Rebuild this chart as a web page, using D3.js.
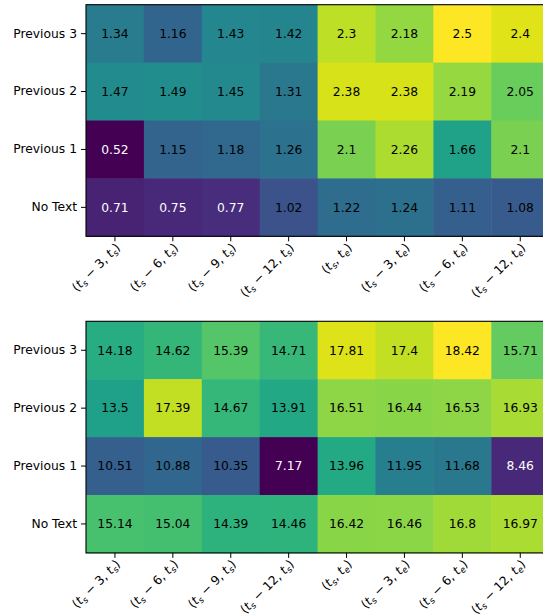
<!DOCTYPE html>
<html>
<head>
<meta charset="utf-8">
<script src="https://cdn.jsdelivr.net/npm/d3@7"></script>
<style>
  body { margin: 0; background: #fff; }
  text { font-family: "DejaVu Sans", sans-serif; }
</style>
</head>
<body>
<script>
// Chart data
const rowLabels = ["Previous 3", "Previous 2", "Previous 1", "No Text"];
const colLabels = [
  "(t_s − 3, t_s)", "(t_s − 6, t_s)", "(t_s − 9, t_s)", "(t_s − 12, t_s)",
  "(t_s, t_e)", "(t_s − 3, t_e)", "(t_s − 6, t_e)", "(t_s − 12, t_e)"
];
const topValues = [
  [1.34, 1.16, 1.43, 1.42, 2.3, 2.18, 2.5, 2.4],
  [1.47, 1.49, 1.45, 1.31, 2.38, 2.38, 2.19, 2.05],
  [0.52, 1.15, 1.18, 1.26, 2.1, 2.26, 1.66, 2.1],
  [0.71, 0.75, 0.77, 1.02, 1.22, 1.24, 1.11, 1.08]
];
const bottomValues = [
  [14.18, 14.62, 15.39, 14.71, 17.81, 17.4, 18.42, 15.71],
  [13.5, 17.39, 14.67, 13.91, 16.51, 16.44, 16.53, 16.93],
  [10.51, 10.88, 10.35, 7.17, 13.96, 11.95, 11.68, 8.46],
  [15.14, 15.04, 14.39, 14.46, 16.42, 16.46, 16.8, 16.97]
];

const width = 543, height = 616;
const cell = 57.9;
const left = 86;

const svg = d3.select("body").append("svg")
  .attr("width", width)
  .attr("height", height);

function heatmap(values, top) {
  const g = svg.append("g").attr("transform", `translate(${left},${top})`);

  const x = d3.scaleBand().domain(d3.range(colLabels.length))
    .range([0, cell * colLabels.length]);
  const y = d3.scaleBand().domain(rowLabels)
    .range([0, cell * rowLabels.length]);

  const flat = values.flat();
  const color = d3.scaleSequential(d3.interpolateViridis)
    .domain(d3.extent(flat));
  const norm = d3.scaleLinear().domain(d3.extent(flat)).range([0, 1]);

  const cells = [];
  values.forEach((row, i) => row.forEach((v, j) => cells.push({ r: rowLabels[i], c: j, v })));

  g.selectAll("rect.cell").data(cells).enter().append("rect")
    .attr("class", "cell")
    .attr("x", d => x(d.c))
    .attr("y", d => y(d.r))
    .attr("width", x.bandwidth() + 0.5)
    .attr("height", y.bandwidth() + 0.5)
    .attr("fill", d => color(d.v));

  g.selectAll("text.val").data(cells).enter().append("text")
    .attr("class", "val")
    .attr("x", d => x(d.c) + x.bandwidth() / 2)
    .attr("y", d => y(d.r) + y.bandwidth() / 2)
    .attr("text-anchor", "middle")
    .attr("dy", "0.35em")
    .attr("font-size", 12.3)
    .attr("fill", d => norm(d.v) < 0.2 ? "#fff" : "#000")
    .text(d => d.v);

  // frame
  const w = cell * colLabels.length, h = cell * rowLabels.length;
  g.append("rect")
    .attr("width", w).attr("height", h)
    .attr("fill", "none").attr("stroke", "#000").attr("stroke-width", 1.1);

  // y axis
  const yAxis = g.append("g").call(d3.axisLeft(y).tickSize(5).tickPadding(4));
  yAxis.select(".domain").remove();
  yAxis.selectAll("text").attr("font-size", 12.3).attr("fill", "#000")
    .attr("font-family", "DejaVu Sans");

  // x axis
  const xAxis = g.append("g").attr("transform", `translate(0,${h})`)
    .call(d3.axisBottom(x).tickSize(5).tickFormat(""));
  xAxis.select(".domain").remove();

  xAxis.selectAll(".tick").each(function (d) {
    const t = d3.select(this).append("text")
      .attr("transform", "translate(6,12) rotate(-45)")
      .attr("text-anchor", "end")
      .attr("fill", "#000")
      .attr("font-size", 12.3)
      .attr("font-family", "DejaVu Sans");
    // split into math parts: t_s / t_e get italic t with subscript
    const parts = colLabels[d].split(/(t_[se])/).filter(p => p.length);
    parts.forEach(p => {
      const m = p.match(/^t_([se])$/);
      if (m) {
        t.append("tspan").attr("font-style", "italic").text("t");
        t.append("tspan").attr("font-style", "italic")
          .attr("font-size", 8.6).attr("dy", 2.5).text(m[1]);
        t.append("tspan").attr("dy", -2.5).text("\u200b");
      } else {
        t.append("tspan").text(p);
      }
    });
  });
}

heatmap(topValues, 4.7);
heatmap(bottomValues, 321.3);
</script>
</body>
</html>
